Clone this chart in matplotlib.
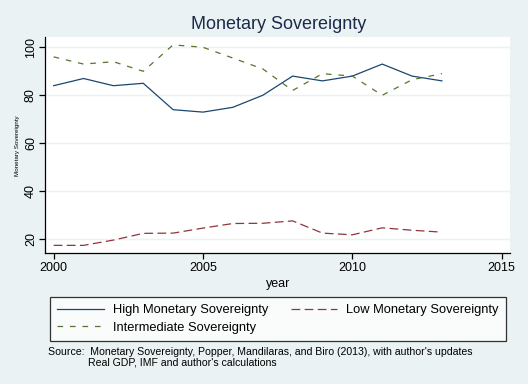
import matplotlib.pyplot as plt
from matplotlib.lines import Line2D

plt.rcParams['font.family'] = ['Liberation Sans', 'DejaVu Sans']

years = [2000, 2001, 2002, 2003, 2004, 2005, 2006, 2007, 2008, 2009, 2010, 2011, 2012, 2013]
high_ms = [84, 87, 84, 85, 74, 73, 75, 80, 88, 86, 88, 93, 88, 86]
low_ms = [17.5, 17.5, 19.7, 22.5, 22.6, 24.7, 26.6, 26.7, 27.7, 22.6, 21.9, 24.8, 23.8, 23.0]
inter_ms = [96, 93, 94, 90, 101, 100, 95.5, 91, 82, 89, 88, 80, 86.5, 89]

x_ticks = [2000, 2005, 2010, 2015]
y_ticks = [20, 40, 60, 80, 100]

bg = '#eaf2f3'
navy = '#1a476f'
maroon = '#90353b'
green = '#55752f'


def main():
    fig = plt.figure(figsize=(5.28, 3.84), dpi=100)
    fig.patch.set_facecolor(bg)
    ax = fig.add_axes([0.0858, 0.3404, 0.8802, 0.564])
    ax.set_facecolor('white')

    ax.plot(years, high_ms, color=navy, lw=0.9, label='High Monetary Sovereignty')
    ax.plot(years, low_ms, color=maroon, lw=0.9, dashes=(7, 3.5), label='Low Monetary Sovereignty')
    ax.plot(years, inter_ms, color=green, lw=0.9, dashes=(4.5, 5.5), label='Intermediate Sovereignty')

    ax.set_xlim(1999.72, 2015.28)
    ax.set_ylim(14.2, 104.4)
    ax.set_xticks(x_ticks)
    ax.set_yticks(y_ticks)
    ax.grid(axis='y', color=bg, lw=1)
    ax.set_axisbelow(True)
    for s in ['top', 'right']:
        ax.spines[s].set_visible(False)
    for s in ['left', 'bottom']:
        ax.spines[s].set_linewidth(0.9)
    ax.tick_params(length=4, width=0.9, labelsize=9, pad=2)
    ax.tick_params(axis='y', labelrotation=90)
    for lab in ax.get_yticklabels():
        lab.set_va('center')

    ax.set_xlabel('year', fontsize=9, labelpad=3)
    fig.text(0.034, 0.62, 'Monetary Sovereignty', rotation=90, fontsize=4.5,
             ha='center', va='center')
    fig.text(0.527, 0.937, 'Monetary Sovereignty', fontsize=13, color='#1c2b4b',
             ha='center', va='center')

    h = [Line2D([], [], color=navy, lw=0.9),
         Line2D([], [], color=green, lw=0.9, dashes=(4.5, 5.5)),
         Line2D([], [], color=maroon, lw=0.9, dashes=(7, 3.5))]
    labels = ['High Monetary Sovereignty', 'Intermediate Sovereignty', 'Low Monetary Sovereignty']
    leg = fig.legend(h, labels, ncol=2, loc='lower left', mode='expand',
                     bbox_to_anchor=(0.0947, 0.112, 0.8636, 0.117),
                     fontsize=9.3, frameon=True, fancybox=False, handlelength=3.6,
                     handletextpad=0.7, labelspacing=0.45, borderpad=0.55,
                     borderaxespad=0)
    leg.get_frame().set_edgecolor('black')
    leg.get_frame().set_linewidth(0.9)

    fig.text(0.091, 0.083, "Source:  Monetary Sovereignty, Popper, Mandilaras, and Biro (2013), with author's updates",
             fontsize=7.6, va='center')
    fig.text(0.167, 0.057, "Real GDP, IMF and author's calculations", fontsize=7.6, va='center')

    fig.savefig('out.png', dpi=100, facecolor=bg)


if __name__ == '__main__':
    main()
